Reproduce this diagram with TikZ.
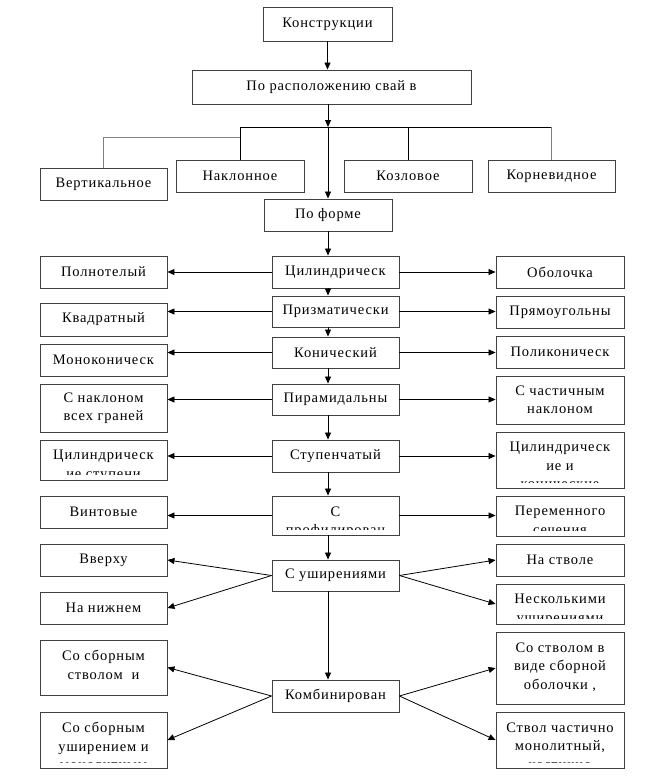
\documentclass[tikz,border=0pt]{standalone}
\usepackage{fontspec}
\setmainfont{Liberation Serif}[LetterSpace=6]
\usetikzlibrary{arrows.meta,positioning}
\definecolor{linkgray}{RGB}{128,128,128}
\newcommand{\boxfont}{\fontsize{14.5pt}{18.5pt}\selectfont}

\begin{document}
\begin{tikzpicture}[
    x=1pt, y=-1pt,
    box/.style={rectangle, draw=black!75, line width=0.9pt, fill=white, minimum width=127pt, minimum height=32pt, inner sep=2pt, align=center, font=\boxfont},
    cutbox/.style={box, path picture={
        \clip ([yshift=6pt]path picture bounding box.south west) rectangle (path picture bounding box.north east);
        \node[draw=none, fill=none, minimum width=0pt, minimum height=0pt, anchor=north, inner sep=0pt, align=center, font=\boxfont] at ([yshift=-10pt]path picture bounding box.north) {#1};}},
    arrow/.style={-{Triangle[length=7pt,width=6pt]}, line width=0.8pt}
]
\useasboundingbox (0,0) rectangle (656,776);

% upper part
\node[box, minimum width=129pt, minimum height=34pt] (konstr) at (327.5,24) {Конструкции};
\node[box, minimum width=279pt, minimum height=34pt] (raspol) at (331.5,87) {По расположению свай в};
\node[box] (vert) at (103.5,184) {Вертикальное};
\node[box, minimum width=128pt] (naklon) at (240,176) {Наклонное};
\node[box, minimum width=128pt] (kozl) at (408,176) {Козловое};
\node[box] (korn) at (551.5,176) {Корневидное};
\node[box, minimum width=128pt] (forma) at (328,215) {По форме};
\coordinate (bar) at (328,127);
\coordinate (vknee) at (240,137);

\draw[arrow] (konstr.south) -- (konstr.south |- raspol.north);
\draw[arrow] (raspol.south -| bar) -- (bar);
\draw[arrow] (bar) -- (forma.north);
\draw (naklon.north) |- (korn.north |- bar);
\draw (kozl.north) -- (kozl.north |- bar);
\draw[linkgray] (korn.north |- bar) -- (korn.north);
\draw[linkgray] (vknee) -| (vert.north);

% middle column
\node[box] (cyl) at (335.5,272) {Цилиндрическ};
\node[box, minimum height=31pt] (prism) at (335.5,311.5) {Призматически};
\node[box, minimum height=31pt] (conic) at (335.5,352.5) {Конический};
\node[box, minimum height=31pt] (pyram) at (335.5,399.5) {Пирамидальны};
\node[box] (stepped) at (335.5,456) {Ступенчатый};
\node[cutbox={С\\профилирован}, minimum height=39pt] (prof) at (335.5,515.5) {};
\node[box, minimum height=31pt] (widen) at (335.5,575.5) {С уширениями};
\node[box] (comb) at (335.5,696) {Комбинирован};

% left column
\node[box] (solid) at (103.5,272) {Полнотелый};
\node[box, minimum height=33pt] (square) at (103.5,319.5) {Квадратный};
\node[box] (monocon) at (103.5,360) {Моноконическ};
\node[box, minimum height=48pt] (allfaces) at (103.5,408) {С наклоном\\всех граней};
\node[cutbox={Цилиндрическ\\ие ступени}, minimum height=40pt] (cylstep) at (103.5,460) {};
\node[box] (screw) at (103.5,512) {Винтовые};
\node[box] (upper) at (103.5,560) {Вверху};
\node[box] (lower) at (103.5,608) {На нижнем};
\node[cutbox={Со сборным\\стволом~ и\\монолитным}, minimum height=55pt] (prefstem) at (103.5,667.5) {};
\node[cutbox={Со сборным\\уширением и\\монолитным}, minimum height=56pt] (prefbulb) at (103.5,740) {};

% right column
\node[box, minimum width=128pt] (shell) at (560,272) {Оболочка};
\node[box, minimum width=128pt] (rect) at (560,312) {Прямоугольны};
\node[box, minimum width=128pt] (polycon) at (560,352) {Поликоническ};
\node[box, minimum width=128pt, minimum height=48pt] (partial) at (560,400) {С частичным\\наклоном};
\node[cutbox={Цилиндрическ\\ие и\\конические}, minimum width=128pt, minimum height=56pt] (cylcon) at (560,460) {};
\node[cutbox={Переменного\\сечения}, minimum width=128pt, minimum height=40pt] (varsec) at (560,516) {};
\node[box, minimum width=128pt] (onstem) at (560,560) {На стволе};
\node[cutbox={Несколькими\\уширениями}, minimum width=128pt, minimum height=40pt] (several) at (560,604) {};
\node[cutbox={Со стволом в\\виде сборной\\оболочки ,}, minimum width=128pt, minimum height=72pt] (shellfill) at (560,668) {};
\node[cutbox={Ствол частично\\монолитный,\\частично}, minimum width=128pt, minimum height=56pt] (partmono) at (560,740) {};

% connectors
\foreach \a/\b in {forma/cyl, cyl/prism, prism/conic, conic/pyram, pyram/stepped, stepped/prof, prof/widen, widen/comb}
    \draw[arrow] (\a.south -| forma.south) -- (\b.north -| forma.south);
\foreach \m/\l/\r in {cyl/solid/shell, prism/square/rect, conic/monocon/polycon, pyram/allfaces/partial, stepped/cylstep/cylcon, prof/screw/varsec} {
    \draw[arrow] (\m.west) -- (\m.west -| \l.east);
    \draw[arrow] (\m.east) -- (\m.east -| \r.west);
}
\foreach \m/\l/\r in {widen/upper/onstem, widen/lower/several, comb/prefstem/shellfill, comb/prefbulb/partmono} {
    \draw[arrow] (\m.west) -- (\l.east);
    \draw[arrow] (\m.east) -- (\r.west);
}
\end{tikzpicture}
\end{document}
